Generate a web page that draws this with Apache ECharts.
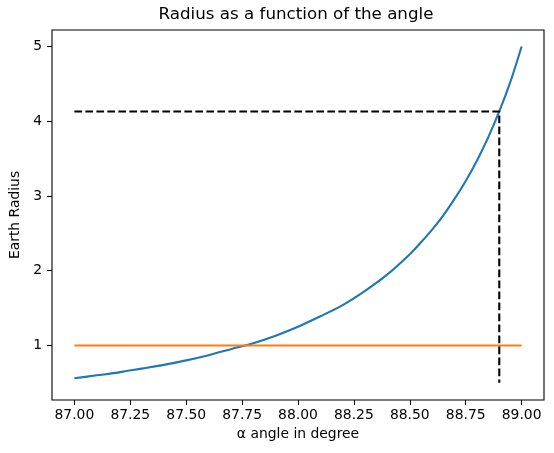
<!DOCTYPE html>
<html>
<head>
<meta charset="utf-8">
<script src="https://cdn.jsdelivr.net/npm/echarts@6/dist/echarts.min.js"></script>
<style>
  html, body { margin: 0; padding: 0; background: #fff; }
  #chart { width: 554px; height: 453px; }
</style>
</head>
<body>
<div id="chart"></div>
<script>
// values
const angle = [87.0, 87.1, 87.2, 87.3, 87.4, 87.5, 87.6, 87.7, 87.8, 87.9,
  88.0, 88.1, 88.2, 88.3, 88.4, 88.5, 88.55, 88.6, 88.65, 88.7, 88.75,
  88.8, 88.85, 88.9, 88.95, 89.0];
const radius = [0.56, 0.60, 0.64, 0.69, 0.74, 0.80, 0.87, 0.95, 1.03, 1.13,
  1.25, 1.39, 1.54, 1.73, 1.95, 2.22, 2.38, 2.55, 2.74, 2.96, 3.20,
  3.47, 3.78, 4.13, 4.53, 5.00];

const levelX = [87, 89];
const levelY = [1, 1];

const guideX = [87, 88.9, 88.9];
const guideY = [4.13, 4.13, 0.5];

const xTicks = [87, 87.25, 87.5, 87.75, 88, 88.25, 88.5, 88.75, 89];
const yTicks = [1, 2, 3, 4, 5];

const zip = (xs, ys) => xs.map((x, i) => [x, ys[i]]);

const font = 'DejaVu Sans';

const chart = echarts.init(document.getElementById('chart'));

const axisCommon = {
  type: 'value',
  splitLine: { show: false },
  axisLine: { show: false },
  axisTick: {
    show: true,
    length: 5,
    lineStyle: { color: '#000', width: 1.1 }
  },
  nameLocation: 'middle',
  nameTextStyle: { fontFamily: font, fontSize: 13.9, color: '#000' }
};

const option = {
  animation: false,
  backgroundColor: '#fff',
  title: {
    text: 'Radius as a function of the angle',
    left: 296,
    textAlign: 'center',
    top: 6,
    padding: 0,
    textStyle: { fontFamily: font, fontSize: 16.7, fontWeight: 'normal', color: '#000' }
  },
  grid: {
    left: 48,
    right: 10,
    top: 30,
    bottom: 53,
    show: true,
    borderColor: '#000',
    borderWidth: 1.1
  },
  xAxis: Object.assign({}, axisCommon, {
    min: 86.9,
    max: 89.1,
    name: 'α angle in degree',
    nameGap: 27,
    axisTick: Object.assign({}, axisCommon.axisTick, { customValues: xTicks }),
    axisLabel: {
      customValues: xTicks,
      margin: 8,
      fontFamily: font,
      fontSize: 13.9,
      color: '#000',
      formatter: (v) => v.toFixed(2)
    }
  }),
  yAxis: Object.assign({}, axisCommon, {
    min: 0.27,
    max: 5.22,
    name: 'Earth Radius',
    nameGap: 30,
    axisTick: Object.assign({}, axisCommon.axisTick, { customValues: yTicks }),
    axisLabel: {
      customValues: yTicks,
      margin: 10,
      fontFamily: font,
      fontSize: 13.9,
      color: '#000'
    }
  }),
  series: [
    {
      name: 'radius',
      type: 'line',
      data: zip(angle, radius),
      smooth: 0.3,
      showSymbol: false,
      lineStyle: { color: '#1f77b4', width: 2.1 }
    },
    {
      name: 'level',
      type: 'line',
      data: zip(levelX, levelY),
      showSymbol: false,
      lineStyle: { color: '#ff7f0e', width: 2.1 }
    },
    {
      name: 'guide',
      type: 'line',
      data: zip(guideX, guideY),
      showSymbol: false,
      lineStyle: { color: '#000', width: 2.1, type: [7.7, 3.3] }
    }
  ]
};

chart.setOption(option);
</script>
</body>
</html>
